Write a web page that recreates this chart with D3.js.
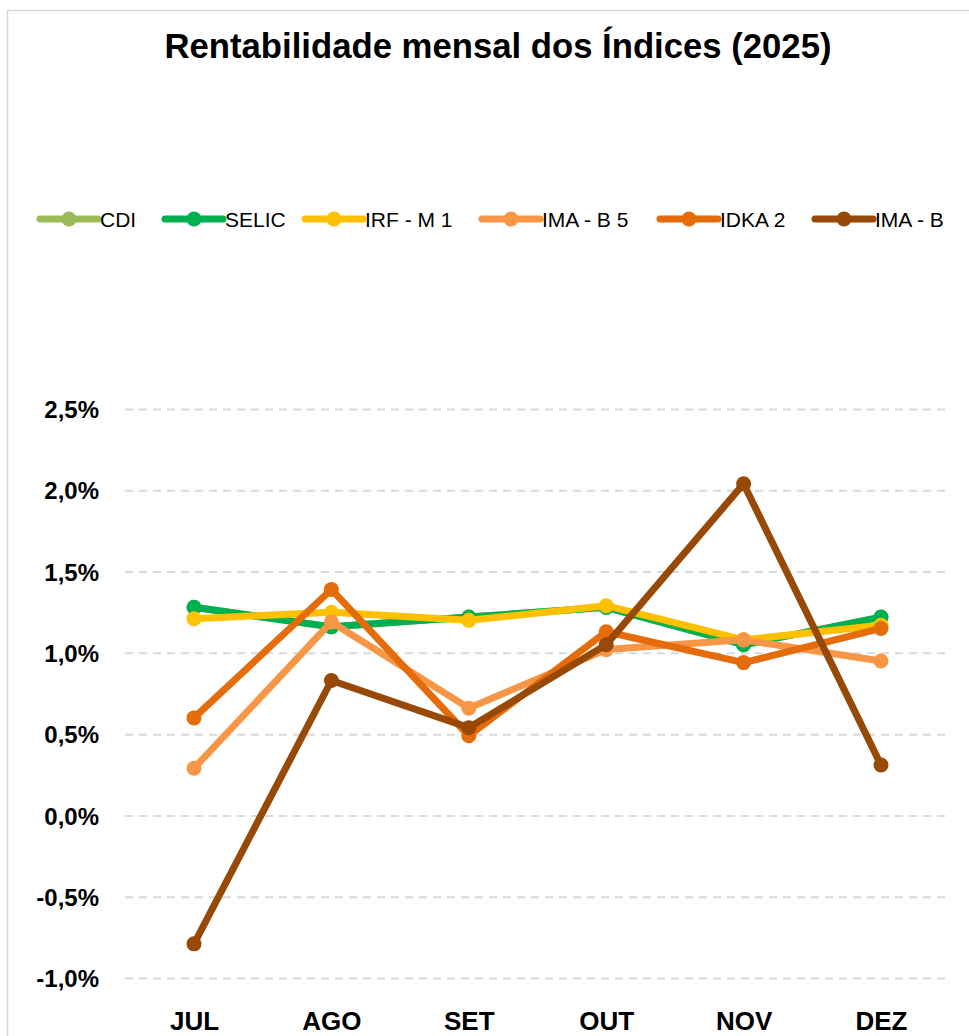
<!DOCTYPE html>
<html><head><meta charset="utf-8">
<script src="https://cdn.jsdelivr.net/npm/d3@7"></script>
<style>html,body{margin:0;padding:0;background:#fff;}svg{display:block;}</style>
</head><body>
<script>
const categories = ["JUL","AGO","SET","OUT","NOV","DEZ"];
const seriesNames = ["CDI","SELIC","IRF - M 1","IMA - B 5","IDKA 2","IMA - B"];
const cdi    = [1.28, 1.16, 1.22, 1.28, 1.05, 1.22];
const selic  = [1.28, 1.16, 1.22, 1.28, 1.05, 1.22];
const irfm1  = [1.21, 1.25, 1.20, 1.29, 1.08, 1.17];
const imab5  = [0.29, 1.19, 0.66, 1.02, 1.08, 0.95];
const idka2  = [0.60, 1.39, 0.49, 1.13, 0.94, 1.15];
const imab   = [-0.79, 0.83, 0.54, 1.05, 2.04, 0.31];
const yTicks = [-1.0, -0.5, 0.0, 0.5, 1.0, 1.5, 2.0, 2.5];
const colors = ["#9BBB59","#00B050","#FFC000","#F79646","#E46C0A","#984807"];
const seriesValues = [cdi, selic, irfm1, imab5, idka2, imab];

const W = 969, H = 1036;
const FONT = "Liberation Sans, Arial, sans-serif";
const svg = d3.select("body").append("svg").attr("width", W).attr("height", H);

// chart border
svg.append("rect").attr("x", 7.5).attr("y", 10.5).attr("width", W + 20).attr("height", H + 20)
  .attr("fill", "#fff").attr("stroke", "#D9D9D9").attr("stroke-width", 1.5);

// title
svg.append("text").attr("x", 498).attr("y", 58).attr("text-anchor", "middle")
  .attr("font-family", FONT).attr("font-weight", "bold")
  .attr("font-size", 35).attr("textLength", 667).attr("lengthAdjust", "spacingAndGlyphs")
  .attr("fill", "#000").text("Rentabilidade mensal dos Índices (2025)");

const x = d3.scalePoint().domain(categories).range([194, 881]);
const y = d3.scaleLinear().domain([-1.0, 2.5]).range([978, 409]);

// gridlines
const grid = d3.axisLeft(y).tickValues(yTicks).tickSize(-(946 - 125)).tickFormat("");
svg.append("g").attr("transform", "translate(125,0)").call(grid)
  .call(g => g.select(".domain").remove())
  .call(g => g.selectAll("line").attr("stroke", "#D9D9D9").attr("stroke-width", 2).attr("stroke-dasharray", "8,6"));

// y labels
const fmt = v => d3.format(".1f")(v).replace(".", ",").replace("−", "-") + "%";
const yAxis = d3.axisLeft(y).tickValues(yTicks).tickSize(0).tickPadding(0).tickFormat(fmt);
svg.append("g").attr("transform", "translate(99,0)").call(yAxis)
  .call(g => g.select(".domain").remove())
  .call(g => g.selectAll("text").attr("font-family", FONT)
    .attr("font-weight", "bold").attr("font-size", 24).attr("fill", "#000").attr("dy", "0.36em"));

// x labels
const xAxis = d3.axisBottom(x).tickSize(0).tickPadding(0);
svg.append("g").attr("transform", "translate(0,1030)").call(xAxis)
  .call(g => g.select(".domain").remove())
  .call(g => g.selectAll("text").attr("font-family", FONT)
    .attr("font-weight", "bold").attr("font-size", 26).attr("fill", "#000").attr("dy", "0"));

// lines
const line = d3.line().x((d, i) => x(categories[i])).y(d => y(d));
seriesValues.forEach((vals, si) => {
  const g = svg.append("g");
  g.append("path").attr("d", line(vals)).attr("fill", "none").attr("stroke", colors[si])
    .attr("stroke-width", 7).attr("stroke-linejoin", "round").attr("stroke-linecap", "round");
  g.selectAll("circle").data(vals).enter().append("circle")
    .attr("cx", (d, i) => x(categories[i])).attr("cy", d => y(d)).attr("r", 7.5)
    .attr("fill", colors[si]);
});

// legend
const legendX = [40, 165, 305, 482, 660, 815];
const legendY = 219;
seriesNames.forEach((name, i) => {
  const g = svg.append("g").attr("transform", `translate(${legendX[i]},${legendY})`);
  g.append("line").attr("x1", 0).attr("x2", 58).attr("y1", 0).attr("y2", 0)
    .attr("stroke", colors[i]).attr("stroke-width", 7).attr("stroke-linecap", "round");
  g.append("circle").attr("cx", 29).attr("cy", 0).attr("r", 7.5).attr("fill", colors[i]);
  g.append("text").attr("x", 60).attr("y", 0).attr("dy", "0.36em")
    .attr("font-family", FONT).attr("font-size", 21)
    .attr("fill", "#000").text(name);
});
</script>
</body></html>
